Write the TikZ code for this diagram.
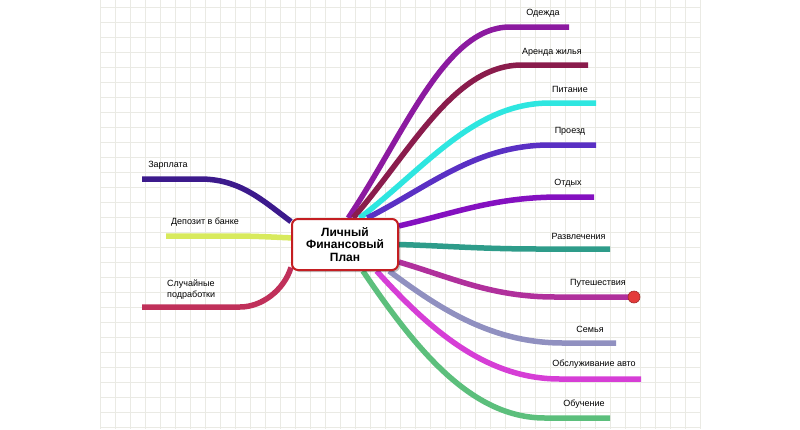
\documentclass[tikz,border=0pt]{standalone}
\usepackage{fontspec}
\setmainfont{Liberation Sans}
\usetikzlibrary{shadows}
\pgfdeclarelayer{bg}
\pgfdeclarelayer{lines}
\pgfsetlayers{bg,lines,main}
\definecolor{gridc}{HTML}{EAEAE4}
\definecolor{boxred}{HTML}{C41E22}
\definecolor{cZar}{HTML}{3C1A8C}
\definecolor{cDep}{HTML}{D8EA5C}
\definecolor{cSl}{HTML}{C0305A}
\definecolor{cOd}{HTML}{8C1AA0}
\definecolor{cAr}{HTML}{8A1C4C}
\definecolor{cPit}{HTML}{2EE6E0}
\definecolor{cPro}{HTML}{5A30C4}
\definecolor{cOtd}{HTML}{8410C0}
\definecolor{cRaz}{HTML}{2E9C8A}
\definecolor{cPut}{HTML}{B0309C}
\definecolor{cSem}{HTML}{9090C0}
\definecolor{cObs}{HTML}{D63ED6}
\definecolor{cObu}{HTML}{5CBF7C}
\definecolor{dotred}{HTML}{E43A3A}
\tikzset{
  branch/.style={line width=5.5pt, line cap=butt},
  lbl/.style={font=\fontsize{9}{11}\selectfont, inner sep=0pt, align=left},
  centerbox/.style={draw=boxred, line width=2pt, fill=white, rounded corners=6pt,
    minimum width=106pt, minimum height=51pt, inner sep=0pt, align=center,
    font=\fontsize{12}{12.5}\selectfont\bfseries,
    drop shadow={shadow xshift=2pt, shadow yshift=-2pt, fill=black, opacity=0.25}},
  enddot/.style={circle, fill=dotred, draw=dotred!70!black, line width=0.6pt, minimum size=12pt, inner sep=0pt}
}
\begin{document}
\begin{tikzpicture}[x=1pt,y=-1pt]
\useasboundingbox (0,0) rectangle (800,429);
\begin{pgfonlayer}{bg}
  \fill[white] (0,0) rectangle (800,429);
  \foreach \k in {0,...,28} { \draw[gridc, line width=0.8pt] (100,7+15*\k) -- (700,7+15*\k); }
  \foreach \k in {0,...,40} { \draw[gridc, line width=0.8pt] (100+15*\k,0) -- (100+15*\k,429); }
\end{pgfonlayer}

\node[centerbox] (c) at (345,244.5) {Личный\\Финансовый\\План};

% free ends
\coordinate (eZar) at (142,179);
\coordinate (eDep) at (166,236);
\coordinate (eSl)  at (142,307);
\coordinate (eOd)  at (569,27);
\coordinate (eAr)  at (588,65);
\coordinate (ePit) at (596,103);
\coordinate (ePro) at (596,145);
\coordinate (eOtd) at (594,197);
\coordinate (eRaz) at (610,249);
\coordinate (eSem) at (616,343);
\coordinate (eObs) at (641,379);
\coordinate (eObu) at (610,418);

\node[enddot] (dPut) at (634,297) {};

% labels
\node[lbl] (lZar) at (168,165) {Зарплата};
\node[lbl] (lDep) at (205,222) {Депозит в банке};
\node[lbl, anchor=west] (lSl) at (167,290) {Случайные\\подработки};
\node[lbl] (lOd)  at (543,13)  {Одежда};
\node[lbl] (lAr)  at (552,52)  {Аренда жилья};
\node[lbl] (lPit) at (570,89)  {Питание};
\node[lbl] (lPro) at (570,131) {Проезд};
\node[lbl] (lOtd) at (568,183) {Отдых};
\node[lbl] (lRaz) at (578.5,236) {Развлечения};
\node[lbl] (lPut) at (598,283) {Путешествия};
\node[lbl] (lSem) at (590,329) {Семья};
\node[lbl] (lObs) at (594,364) {Обслуживание авто};
\node[lbl] (lObu) at (584,404) {Обучение};

\begin{pgfonlayer}{lines}
  % left
  \draw[branch, cZar] (c.157) .. controls (262,200) and (240,179) .. (200,179) -- (eZar);
  \draw[branch, cDep] (c.173) .. controls (270,237) and (255,236) .. (230,236) -- (eDep);
  \draw[branch, cSl]  (c.203) .. controls (284,290) and (262,307) .. (240,307) -- (eSl);
  % right, upper
  \draw[branch, cOd]  (c.83) .. controls (405,133) and (445,27) .. (510,27) -- (eOd);
  \draw[branch, cAr]  (c.73) .. controls (412,150) and (454,65) .. (522,65) -- (eAr);
  \draw[branch, cPit] (c.61) .. controls (426,167) and (474,103) .. (550,103) -- (ePit);
  \draw[branch, cPro] (c.50) .. controls (430,186) and (476,145) .. (550,145) -- (ePro);
  \draw[branch, cOtd] (c.19) .. controls (455,213) and (495,197) .. (560,197) -- (eOtd);
  \draw[branch, cRaz] (c.0)  .. controls (448,246) and (483,249) .. (540,249) -- (eRaz);
  % right, lower
  \draw[branch, cPut] (c.-18) .. controls (453,278) and (492,297) .. (555,297) -- (dPut.center);
  \draw[branch, cSem] (c.-31) .. controls (441,310) and (493,343) .. (563,343) -- (eSem);
  \draw[branch, cObs] (c.-40) .. controls (430,330) and (486,379) .. (560,379) -- (eObs);
  \draw[branch, cObu] (c.-56) .. controls (417,351) and (472,418) .. (545,418) -- (eObu);
\end{pgfonlayer}
\end{tikzpicture}
\end{document}
